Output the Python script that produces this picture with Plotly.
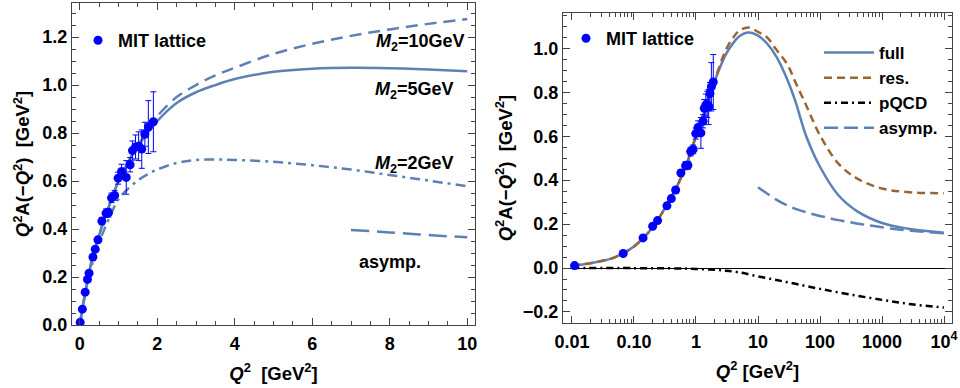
import plotly.graph_objects as go

# ---------------- data ----------------
# MIT lattice points
lat_q2 = [0.011, 0.067, 0.14, 0.20, 0.24, 0.34, 0.40, 0.47, 0.57, 0.68, 0.74, 0.82, 0.90,
          0.99, 1.08, 1.20, 1.30, 1.36, 1.44, 1.52, 1.60, 1.68, 1.77, 1.90]
lat_val = [0.011, 0.066, 0.137, 0.19, 0.216, 0.283, 0.316, 0.355, 0.433, 0.466, 0.468, 0.53, 0.54,
           0.612, 0.64, 0.615, 0.668, 0.727, 0.742, 0.745, 0.733, 0.795, 0.825, 0.847]
lat_err = [0.006, 0.008, 0.008, 0.01, 0.01, 0.01, 0.01, 0.012, 0.015, 0.018, 0.018, 0.02, 0.02,
           0.025, 0.03, 0.07, 0.03, 0.04, 0.05, 0.06, 0.08, 0.05, 0.11, 0.125]

# left panel curves (linear Q^2)
q_lin = [0, 0.05, 0.1, 0.2, 0.3, 0.4, 0.5, 0.6, 0.8, 1.0, 1.25, 1.5, 1.75, 2, 2.5, 3, 3.5, 4,
         5, 6, 7, 8, 9, 10]
m5 = [0, 0.05, 0.098, 0.185, 0.262, 0.322, 0.375, 0.425, 0.515, 0.6, 0.68, 0.745, 0.80, 0.85,
      0.925, 0.97, 1.0, 1.025, 1.055, 1.068, 1.072, 1.07, 1.065, 1.058]
m10 = [0, 0.05, 0.098, 0.185, 0.262, 0.322, 0.375, 0.425, 0.515, 0.6, 0.68, 0.748, 0.81, 0.87,
       0.95, 1.0, 1.04, 1.072, 1.13, 1.172, 1.205, 1.232, 1.255, 1.275]
m2 = [0, 0.05, 0.095, 0.175, 0.24, 0.30, 0.345, 0.385, 0.46, 0.525, 0.568, 0.603, 0.628, 0.648,
      0.675, 0.688, 0.69, 0.688, 0.68, 0.666, 0.648, 0.625, 0.602, 0.578]
asy_lin_q = [7, 7.5, 8, 8.5, 9, 9.5, 10]
asy_lin = [0.396, 0.391, 0.386, 0.38, 0.375, 0.37, 0.366]

# right panel curves (log Q^2)
q_log = [0.01, 0.02, 0.05, 0.1, 0.2, 0.3, 0.5, 0.7, 1, 1.5, 2, 3, 4, 5, 7, 10, 14, 20, 30, 40,
         60, 100, 200, 400, 1000, 2500, 10000]
full = [0.011, 0.022, 0.05, 0.098, 0.185, 0.262, 0.375, 0.47, 0.6, 0.745, 0.85, 0.97, 1.025,
        1.055, 1.072, 1.058, 1.022, 0.96, 0.855, 0.76, 0.60, 0.461, 0.33, 0.258, 0.205, 0.18, 0.161]
res = [0.011, 0.022, 0.05, 0.098, 0.185, 0.262, 0.375, 0.47, 0.6, 0.747, 0.855, 0.99, 1.05,
       1.08, 1.095, 1.075, 1.05, 0.992, 0.925, 0.847, 0.74, 0.604, 0.474, 0.407, 0.362, 0.346, 0.34]
pqcd_q = [0.01, 0.1, 0.5, 1, 2, 3, 5, 10, 20, 40, 100, 300, 1000, 3000, 10000]
pqcd = [0, -0.0005, -0.002, -0.004, -0.008, -0.012, -0.02, -0.038, -0.055, -0.072, -0.095,
        -0.12, -0.145, -0.165, -0.18]
asy_log_q = [10, 20, 33, 60, 112, 200, 390, 700, 1350, 3000, 10000]
asy_log = [0.368, 0.31, 0.279, 0.254, 0.234, 0.218, 0.203, 0.192, 0.18, 0.17, 0.158]

x_log_ticks = [0.01, 0.1, 1, 10, 100, 1000, 10000]
x_log_text = ["0.01", "0.10", "1", "10", "100", "1000", "10<sup>4</sup>"]
x_log_minor = [m * 10 ** e for e in range(-2, 4) for m in range(2, 10)]

# ---------------- style ----------------
BLUE = "#5E81B5"
BROWN = "#996633"
FONT = "Liberation Sans"
W, H = 960, 388

fig = go.Figure()

# left panel
fig.add_trace(go.Scatter(x=q_lin, y=m10, mode="lines", line=dict(color=BLUE, width=2.5, dash="12px,7px"),
                         line_shape="spline", showlegend=False, xaxis="x", yaxis="y"))
fig.add_trace(go.Scatter(x=q_lin, y=m2, mode="lines",
                         line=dict(color=BLUE, width=2.5, dash="10px,5px,3px,5px"),
                         line_shape="spline", showlegend=False, xaxis="x", yaxis="y"))
fig.add_trace(go.Scatter(x=asy_lin_q, y=asy_lin, mode="lines", line=dict(color=BLUE, width=2.5, dash="18px,8px"),
                         line_shape="spline", showlegend=False, xaxis="x", yaxis="y"))
fig.add_trace(go.Scatter(x=q_lin, y=m5, mode="lines", line=dict(color=BLUE, width=2.5),
                         line_shape="spline", showlegend=False, xaxis="x", yaxis="y"))
fig.add_trace(go.Scatter(x=lat_q2, y=lat_val, mode="markers", name="MIT lattice",
                         marker=dict(color="blue", size=9),
                         error_y=dict(type="data", array=lat_err, color="blue", thickness=1, width=3),
                         legend="legend", xaxis="x", yaxis="y"))

# right panel
fig.add_trace(go.Scatter(x=q_log, y=full, mode="lines", name="full", line=dict(color=BLUE, width=2.5),
                         line_shape="spline", legend="legend3", xaxis="x2", yaxis="y2"))
fig.add_trace(go.Scatter(x=q_log, y=res, mode="lines", name="res.",
                         line=dict(color=BROWN, width=2.5, dash="8px,5px"),
                         line_shape="spline", legend="legend3", xaxis="x2", yaxis="y2"))
fig.add_trace(go.Scatter(x=pqcd_q, y=pqcd, mode="lines", name="pQCD",
                         line=dict(color="black", width=2.5, dash="7px,4px,2px,4px"),
                         line_shape="spline", legend="legend3", xaxis="x2", yaxis="y2"))
fig.add_trace(go.Scatter(x=asy_log_q, y=asy_log, mode="lines", name="asymp.",
                         line=dict(color=BLUE, width=2.5, dash="14px,6px"),
                         line_shape="spline", legend="legend3", xaxis="x2", yaxis="y2"))
fig.add_trace(go.Scatter(x=lat_q2, y=lat_val, mode="markers", name="MIT lattice",
                         marker=dict(color="blue", size=9),
                         error_y=dict(type="data", array=lat_err, color="blue", thickness=1, width=3),
                         legend="legend2", xaxis="x2", yaxis="y2"))

tickfont = dict(family=FONT, size=18, color="black", weight="bold")
titlefont = dict(family=FONT, size=18.5, color="black", weight="bold")
legfont = dict(family=FONT, size=18, weight="bold", color="black")
frame = dict(showline=True, linecolor="#444", linewidth=1, mirror="allticks", ticks="inside",
             tickcolor="#444", ticklen=7, showgrid=False, zeroline=False, tickfont=tickfont,
             ticklabeloverflow="allow", automargin=False)

ytitle = "<i>Q</i><sup>2</sup>A(\u2212<i>Q</i><sup>2</sup>)  [GeV<sup>2</sup>]"

fig.update_layout(
    width=W, height=H, margin=dict(l=0, r=0, t=0, b=0, autoexpand=False),
    paper_bgcolor="white", plot_bgcolor="white",
    font=dict(family=FONT, color="black"),
    xaxis=dict(domain=[72 / W, 475 / W], range=[-0.2, 10.2], dtick=2, ticklabelstandoff=2,
               minor=dict(dtick=0.5, ticks="inside", ticklen=4, tickcolor="#444"),
               title=dict(text="<i>Q</i><sup>2</sup>  [GeV<sup>2</sup>]", font=titlefont, standoff=14),
               anchor="y", **frame),
    yaxis=dict(domain=[(H - 325) / H, (H - 3) / H], range=[0, 1.342], dtick=0.2, tickformat=".1f",
               minor=dict(dtick=0.05, ticks="inside", ticklen=4, tickcolor="#444"),
               title=dict(text=ytitle, font=titlefont, standoff=7),
               anchor="x", **frame),
    xaxis2=dict(domain=[563 / W, 952 / W], type="log", range=[-2.145, 4.129], ticklabelstandoff=2,
                tickmode="array", tickvals=x_log_ticks, ticktext=x_log_text,
                minor=dict(tickmode="array", tickvals=x_log_minor, ticks="inside", ticklen=4,
                           tickcolor="#444"),
                title=dict(text="<i>Q</i><sup>2</sup> [GeV<sup>2</sup>]", font=titlefont, standoff=14),
                anchor="y2", **frame),
    yaxis2=dict(domain=[(H - 323) / H, (H - 13) / H], range=[-0.2503, 1.161], dtick=0.2, tickformat=".1f",
                minor=dict(dtick=0.05, ticks="inside", ticklen=4, tickcolor="#444"),
                title=dict(text=ytitle, font=titlefont, standoff=5),
                anchor="x2", **frame),
    legend=dict(x=78 / W, y=1 - 22 / H, xanchor="left", yanchor="top", bgcolor="rgba(0,0,0,0)",
                font=legfont),
    legend2=dict(x=566 / W, y=1 - 20 / H, xanchor="left", yanchor="top", bgcolor="rgba(0,0,0,0)",
                 font=legfont),
    legend3=dict(x=819 / W, y=1 - 35 / H, xanchor="left", yanchor="top", bgcolor="rgba(0,0,0,0)",
                 font=dict(family=FONT, size=17, weight="bold", color="black"),
                 itemwidth=50, tracegroupgap=0),
)

# zero line in right panel
fig.update_yaxes(selector=dict(anchor="x2"), zeroline=True, zerolinecolor="black", zerolinewidth=1)

ann_font = dict(family=FONT, size=18, color="black", weight="bold")
labels = [("<i>M</i><sub>2</sub>=10GeV", 10.0, 1.176, "right"),
          ("<i>M</i><sub>2</sub>=5GeV", 9.7, 0.976, "right"),
          ("<i>M</i><sub>2</sub>=2GeV", 9.7, 0.667, "right"),
          ("asymp.", 8.0, 0.264, "center")]
for txt, xx, yy, xa in labels:
    fig.add_annotation(text=txt, x=xx, y=yy, xref="x", yref="y", showarrow=False,
                       xanchor=xa, yanchor="middle", font=ann_font)

fig.write_html("out.html", config={"displayModeBar": False},
               post_script="document.body.style.margin='0';document.body.style.overflow='hidden';")
